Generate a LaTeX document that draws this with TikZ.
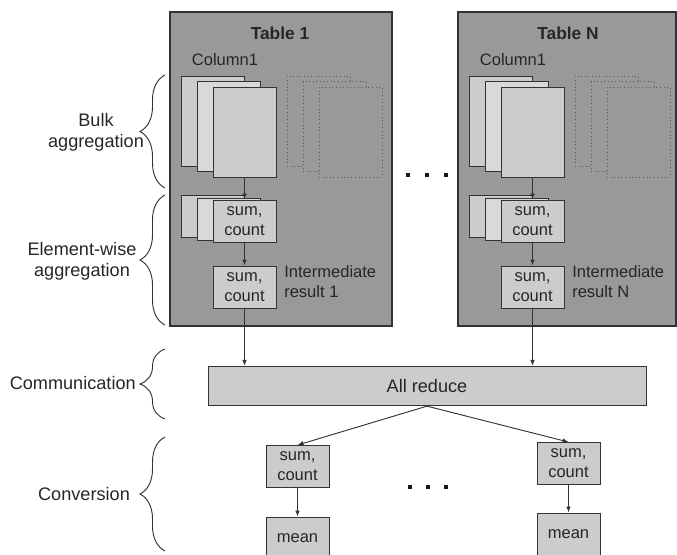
\documentclass[tikz,border=0pt]{standalone}
\usepackage{fontspec}
\setmainfont{Liberation Sans}
\usetikzlibrary{arrows.meta,decorations.pathreplacing}
\definecolor{panelgray}{HTML}{999999}
\definecolor{pagegray}{HTML}{CCCCCC}
\definecolor{pagelight}{HTML}{D9D9D9}
\definecolor{inkgray}{HTML}{333333}
\begin{document}
\begin{tikzpicture}[x=0.75pt,y=-0.75pt,>={Latex[length=4.5pt,width=3.5pt]},
  every node/.style={text=black!85},
  panel/.style={draw=inkgray,fill=panelgray,line width=0.8pt,minimum height=235.5pt,inner sep=0pt},
  page/.style={draw=inkgray,fill=pagegray,line width=0.7pt,minimum width=47.25pt,minimum height=67.5pt,inner sep=0pt},
  ghost/.style={draw=black!65,fill=panelgray,dotted,line width=0.7pt,minimum width=47.25pt,minimum height=67.5pt,inner sep=0pt},
  cell/.style={draw=inkgray,fill=pagegray,line width=0.7pt,minimum width=47.25pt,minimum height=31.5pt,inner sep=0pt,align=center,font=\fontsize{12.4}{15}\selectfont},
  txt/.style={font=\fontsize{12.4}{15}\selectfont,inner sep=0pt},
  side/.style={font=\fontsize{13.6}{16}\selectfont,align=center,inner sep=0pt},
  title/.style={font=\bfseries\fontsize{13}{16}\selectfont,inner sep=0pt},
  link/.style={->,draw=inkgray,line width=0.7pt},
  brace/.style={draw=inkgray,line width=0.7pt,decorate,decoration={brace,amplitude=18.75pt}}]
\useasboundingbox (0,0) rectangle (677,554);
\clip (0,0) rectangle (677,554);

% table 1
\node[panel,minimum width=166.5pt] (tab1) at (281,169) {};
\node[title] (ttl1) at (280,33) {Table 1};
\node[txt] (col1) at (225,60) {Column1};
\node[page] (p1a) at (212.5,121) {};
\node[page,fill=pagelight] (p1b) at (228.5,126.5) {};
\node[page] (p1c) at (244.5,132) {};
\node[ghost] (g1a) at (318.5,121) {};
\node[ghost] (g1b) at (334.5,126.5) {};
\node[ghost] (g1c) at (350.5,132) {};
\node[cell] (s1a) at (212.5,216) {};
\node[cell,fill=pagelight] (s1b) at (228.5,219) {};
\node[cell] (s1c) at (244.5,221) {sum,\\count};
\node[cell] (i1) at (244.5,287) {sum,\\count};
\node[txt,anchor=west,align=left] (r1) at (284,282) {Intermediate\\result 1};

% table N
\node[panel,minimum width=163.5pt] (tabN) at (567,169) {};
\node[title] (ttlN) at (568,33) {Table N};
\node[txt] (colN) at (513,60) {Column1};
\node[page] (pNa) at (500.5,121) {};
\node[page,fill=pagelight] (pNb) at (516.5,126.5) {};
\node[page] (pNc) at (532.5,132) {};
\node[ghost] (gNa) at (606.5,121) {};
\node[ghost] (gNb) at (622.5,126.5) {};
\node[ghost] (gNc) at (638.5,132) {};
\node[cell] (sNa) at (500.5,216) {};
\node[cell,fill=pagelight] (sNb) at (516.5,219) {};
\node[cell] (sNc) at (532.5,221) {sum,\\count};
\node[cell] (iN) at (532.5,287) {sum,\\count};
\node[txt,anchor=west,align=left] (rN) at (572,282) {Intermediate\\result N};

% dots between the tables
\foreach \dx in {408,427,446}
  \fill[black!90] (\dx-1.7,173.3) rectangle (\dx+1.7,176.7);

% all reduce and the results
\node[cell,minimum width=328.5pt,minimum height=29.5pt,font=\fontsize{13.6}{16}\selectfont] (red) at (427,386) {All reduce};
\node[cell] (c1) at (297.5,466.5) {sum,\\count};
\node[cell] (cN) at (568.5,463.5) {sum,\\count};
\node[cell] (m1) at (297.5,538) {mean};
\node[cell] (mN) at (568.5,534) {mean};
\foreach \dx in {410,428,446}
  \fill[black!90] (\dx-1.7,485.3) rectangle (\dx+1.7,488.7);

\draw[link] (p1c.south) -- (s1c.north);
\draw[link] (s1c.south) -- (i1.north);
\draw[link] (i1.south) -- (i1.south |- red.north);
\draw[link] (pNc.south) -- (sNc.north);
\draw[link] (sNc.south) -- (iN.north);
\draw[link] (iN.south) -- (iN.south |- red.north);
\draw[link] (red.south) -- (c1.north);
\draw[link] (red.south) -- (cN.north);
\draw[link] (c1.south) -- (m1.north);
\draw[link] (cN.south) -- (mN.north);

% braces on the left
\draw[brace] (165,188) -- (165,75);
\draw[brace] (165,325) -- (165,195);
\draw[brace] (165,419) -- (165,349);
\draw[brace] (165,551) -- (165,437);
\node[side] (bulk) at (96,132) {Bulk\\aggregation};
\node[side] (elem) at (82,261) {Element-wise\\aggregation};
\node[side,anchor=east] (comm) at (136,383) {Communication};
\node[side] (conv) at (84,494) {Conversion};
\end{tikzpicture}
\end{document}
